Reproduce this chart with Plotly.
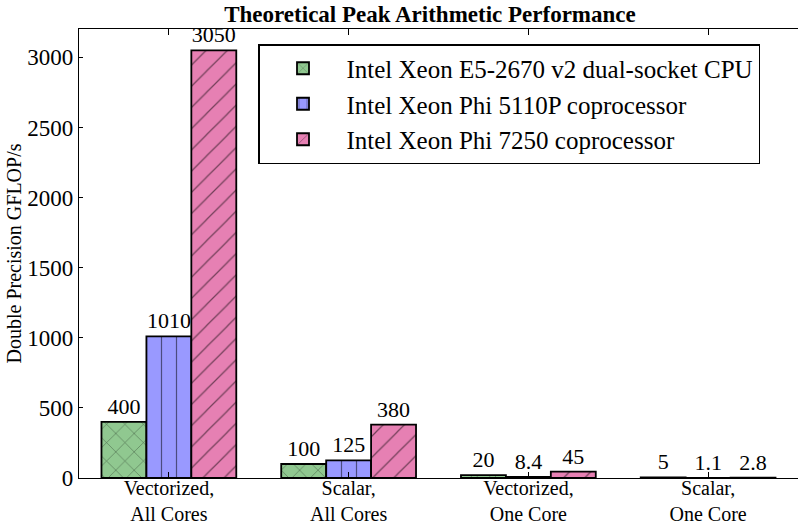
import plotly.graph_objects as go

categories = ["Vectorized,<br>All Cores", "Scalar,<br>All Cores", "Vectorized,<br>One Core", "Scalar,<br>One Core"]
series_names = ["Intel Xeon E5-2670 v2 dual-socket CPU", "Intel Xeon Phi 5110P coprocessor", "Intel Xeon Phi 7250 coprocessor"]
cpu_vals = [400, 100, 20, 5]
phi5110_vals = [1010, 125, 8.4, 1.1]
phi7250_vals = [3050, 380, 45, 2.8]
y_ticks = [0, 500, 1000, 1500, 2000, 2500, 3000]

colors = ["#90c890", "#9999ff", "#e680b3"]
shapes = ["x", "|", "/"]
sizes = [13, 15, 15]
series_vals = [cpu_vals, phi5110_vals, phi7250_vals]

FONT = "Liberation Serif"
x = list(range(len(categories)))

fig = go.Figure()
for i, (name, vals) in enumerate(zip(series_names, series_vals)):
    fig.add_trace(go.Bar(
        x=x, y=vals, name=name, legendgroup=f"g{i}",
        marker=dict(color=colors[i], line=dict(color="black", width=1.8),
                    pattern=dict(shape=shapes[i], fgcolor="black", bgcolor=colors[i],
                                 size=sizes[i], solidity=0.08, fillmode="overlay")),
        text=[f"{v:g}" for v in vals], textposition="outside",
        textfont=dict(family=FONT, size=22, color="black"),
        constraintext="none", cliponaxis=False,
    ))

fig.update_layout(
    width=798, height=524,
    margin=dict(l=79, r=0, t=29, b=46),
    paper_bgcolor="white", plot_bgcolor="white",
    barmode="group", bargap=0.25, bargroupgap=0,
    font=dict(family=FONT, size=20, color="black"),
    title=dict(text="<b>Theoretical Peak Arithmetic Performance</b>",
               x=(430 - 79) / 719, xref="paper", xanchor="center",
               y=1 - 14 / 524, yanchor="middle",
               font=dict(family=FONT, size=23, color="black")),
    xaxis=dict(tickmode="array", tickvals=x, ticktext=categories,
               range=[-0.5, 3.5], showline=True, linecolor="black", linewidth=1.2,
               mirror="ticks", ticks="inside", ticklen=6, tickcolor="black",
               tickfont=dict(family=FONT, size=20), showgrid=False, zeroline=False,
               automargin=False, ticklabelstandoff=-8),
    yaxis=dict(range=[0, 3202.5], tickmode="array", tickvals=y_ticks,
               showline=True, linecolor="black", linewidth=1.2, mirror=True,
               ticks="inside", ticklen=4, tickcolor="black",
               tickfont=dict(family=FONT, size=23), showgrid=False, zeroline=False,
               automargin=True,
               title=dict(text="Double Precision GFLOP/s", font=dict(family=FONT, size=20),
                          standoff=0)),
    legend=dict(x=(258 - 79) / 719, y=(478 - 44) / 449, xanchor="left", yanchor="top",
                bgcolor="white", bordercolor="black", borderwidth=1.5,
                font=dict(family=FONT, size=25, color="black"),
                itemwidth=77, tracegroupgap=3, traceorder="normal"),
    showlegend=True,
)

fig.write_html("out.html", config={"displayModeBar": False},
               post_script="document.body.style.margin='0';")
